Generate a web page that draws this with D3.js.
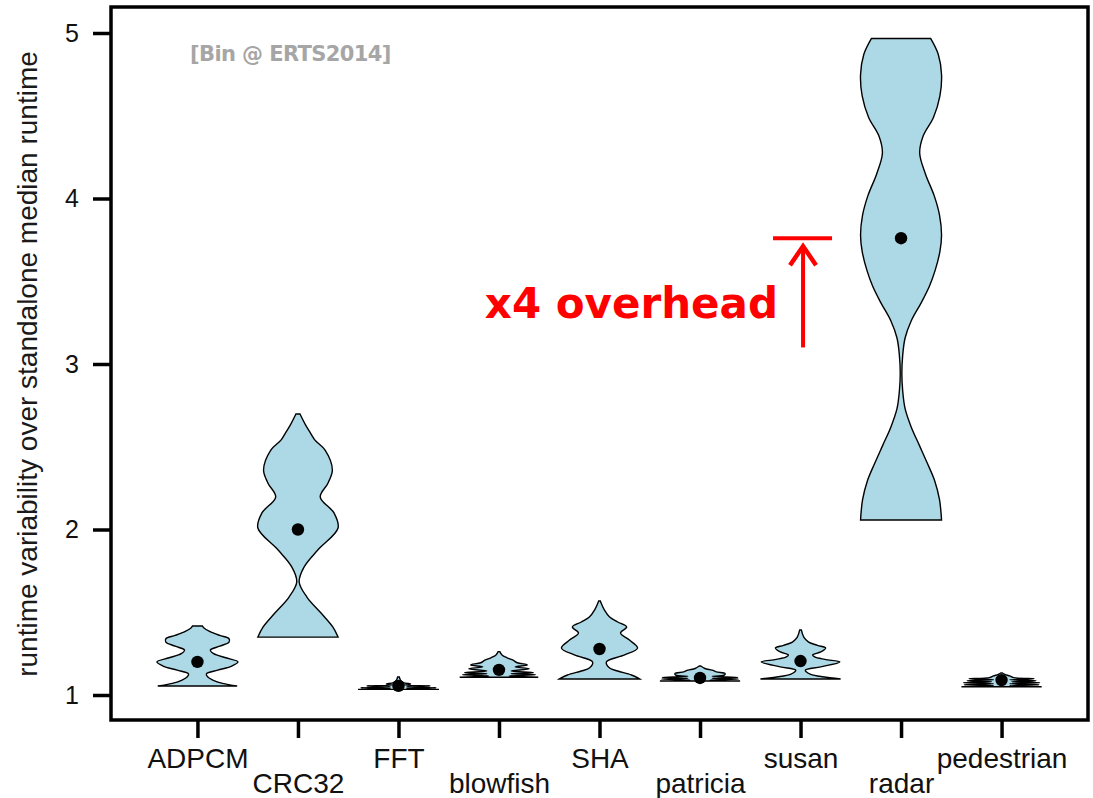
<!DOCTYPE html>
<html>
<head>
<meta charset="utf-8">
<script src="https://cdn.jsdelivr.net/npm/d3@7"></script>
<style>
  body { margin: 0; background: #fff; }
  text { font-family: Arial, "Liberation Sans", sans-serif; }
</style>
</head>
<body>
<div class="root"></div>
<script>

var benchmarks = ['ADPCM', 'CRC32', 'FFT', 'blowfish', 'SHA', 'patricia', 'susan', 'radar', 'pedestrian'];

var medians = [1.2, 2.0, 1.055, 1.152, 1.278, 1.103, 1.205, 3.76, 1.09];

var yTicks = [1, 2, 3, 4, 5];

// density profiles: [runtime ratio, relative density]
var adpcm = [[1.054,0.98],[1.07,0.62],[1.09,0.38],[1.11,0.25],[1.127,0.22],[1.15,0.5],[1.175,0.85],[1.2,1.0],
             [1.225,0.7],[1.25,0.4],[1.272,0.32],[1.295,0.55],[1.32,0.78],[1.34,0.78],[1.36,0.55],[1.385,0.3],
             [1.405,0.16],[1.417,0.12]];
var crc32 = [[1.35,0.99],[1.411,0.86],[1.495,0.57],[1.592,0.22],[1.683,0.03],[1.773,0.15],[1.876,0.49],[2.009,0.99],
             [2.1,0.89],[2.196,0.55],[2.28,0.74],[2.36,0.85],[2.48,0.67],[2.54,0.42],[2.583,0.31],[2.631,0.19],[2.698,0.05]];
var fft = [[1.034,1.0],[1.039,0.2],[1.044,0.93],[1.049,0.2],[1.055,0.78],[1.06,0.15],[1.066,0.3],[1.075,0.12],
           [1.09,0.05],[1.109,0.02]];
var blowfish = [[1.107,0.97],[1.115,0.25],[1.122,0.9],[1.128,0.3],[1.135,0.85],[1.145,0.3],[1.158,0.75],[1.17,0.4],
                [1.182,0.7],[1.195,0.45],[1.21,0.35],[1.225,0.2],[1.24,0.08],[1.262,0.02]];
var sha = [[1.097,0.99],[1.121,0.79],[1.145,0.45],[1.163,0.25],[1.2,0.17],[1.242,0.62],[1.284,0.94],[1.332,0.74],
           [1.375,0.52],[1.411,0.67],[1.441,0.45],[1.471,0.25],[1.514,0.12],[1.568,0.02]];
var patricia = [[1.085,0.99],[1.09,0.25],[1.096,0.95],[1.1,0.3],[1.106,0.93],[1.113,0.3],[1.12,0.6],[1.13,0.62],
                [1.14,0.4],[1.15,0.3],[1.16,0.12],[1.175,0.02]];
var susan = [[1.097,0.99],[1.11,0.55],[1.125,0.25],[1.14,0.14],[1.151,0.12],[1.17,0.5],[1.2,0.97],[1.215,0.6],
             [1.23,0.35],[1.242,0.3],[1.26,0.5],[1.284,0.62],[1.3,0.42],[1.32,0.2],[1.35,0.08],[1.393,0.02]];
var radar = [[2.057,1.0],[2.18,0.95],[2.295,0.83],[2.4,0.65],[2.51,0.45],[2.62,0.25],[2.73,0.1],[2.84,0.04],
             [2.94,0.02],[3.05,0.04],[3.157,0.1],[3.26,0.25],[3.371,0.5],[3.47,0.7],[3.564,0.84],[3.68,0.96],
             [3.78,1.0],[3.9,0.95],[4.016,0.82],[4.15,0.6],[4.275,0.46],[4.38,0.55],[4.49,0.8],[4.62,0.96],
             [4.748,1.0],[4.87,0.92],[4.967,0.73]];
var pedestrian = [[1.05,0.99],[1.056,0.2],[1.062,0.92],[1.068,0.2],[1.074,0.94],[1.08,0.25],[1.086,0.85],
                  [1.092,0.2],[1.098,0.8],[1.105,0.3],[1.115,0.2],[1.125,0.08],[1.133,0.02]];

var profiles = [adpcm, crc32, fft, blowfish, sha, patricia, susan, radar, pedestrian];

var canvasWidth  = 1093,
    canvasHeight = 798;

var box = {left: 111, top: 7, right: 1088, bottom: 720};

var canvas = d3.select('.root')
                .append('svg')
                .attr('width', canvasWidth)
                .attr('height', canvasHeight);

var xScale = d3.scalePoint()
                .domain(benchmarks)
                .range([box.left, box.right])
                .padding(0.86);

var yScale = d3.scaleLinear()
                .domain([1, 5])
                .range([695, 33]);

var widthScale = d3.scaleLinear()
                    .domain([0, 1])
                    .range([0, 40.5]);

//=============== violins ===================
profiles.forEach(function (profile, i) {
  var cx = xScale(benchmarks[i]);

  var area = d3.area()
                .curve(d3.curveCatmullRom)
                .y(d => yScale(d[0]))
                .x0(d => cx - widthScale(d[1]))
                .x1(d => cx + widthScale(d[1]));

  canvas.append('path')
        .datum(profile)
        .attr('d', area)
        .style('fill', '#add8e6')
        .style('stroke', '#000')
        .style('stroke-width', '1.4px');

  canvas.append('circle')
        .attr('cx', cx)
        .attr('cy', yScale(medians[i]))
        .attr('r', 6.2)
        .style('fill', '#000');
});

//=============== frame and axes ===================
canvas.append('rect')
      .attr('x', box.left)
      .attr('y', box.top)
      .attr('width', box.right - box.left)
      .attr('height', box.bottom - box.top)
      .style('fill', 'none')
      .style('stroke', '#000')
      .style('stroke-width', '3.5px');

var yAxis = canvas.append('g')
                  .attr('transform', 'translate(' + box.left + ',0)')
                  .call(d3.axisLeft(yScale).tickValues(yTicks).tickSize(18).tickPadding(14).tickFormat(d3.format('d')));

yAxis.select('.domain').remove();
yAxis.selectAll('line').style('stroke-width', '3.5px');
yAxis.selectAll('text')
     .style('font-size', '25px')
     .style('font-family', 'Arial, "Liberation Sans", sans-serif')
     .style('fill', '#111');

var xAxis = canvas.append('g')
                  .attr('transform', 'translate(0,' + box.bottom + ')')
                  .call(d3.axisBottom(xScale).tickSize(18));

xAxis.select('.domain').remove();
xAxis.selectAll('line').style('stroke-width', '3.5px');
xAxis.selectAll('text')
     .attr('y', (d, i) => i % 2 === 0 ? 48 : 73)
     .attr('dy', 0)
     .style('font-size', '28px')
     .style('font-family', 'Arial, "Liberation Sans", sans-serif')
     .style('fill', '#111');

canvas.append('text')
      .attr('transform', 'translate(37,' + 364 + ') rotate(-90)')
      .attr('text-anchor', 'middle')
      .style('font-size', '28px')
      .style('fill', '#1a1a1a')
      .text('runtime variability over standalone median runtime');

//=============== annotations ===================
canvas.append('text')
      .attr('x', 190)
      .attr('y', 61)
      .style('font-family', '"DejaVu Sans", sans-serif')
      .style('font-weight', 'bold')
      .style('font-size', '21px')
      .style('letter-spacing', '-0.6px')
      .style('fill', '#a6a6a6')
      .text('[Bin @ ERTS2014]');

var radarX = xScale('radar'),
    radarMed = medians[benchmarks.indexOf('radar')];

canvas.append('line')
      .attr('x1', radarX - 128).attr('x2', radarX - 69)
      .attr('y1', yScale(radarMed)).attr('y2', yScale(radarMed))
      .style('stroke', '#ff0000')
      .style('stroke-width', '4px');

canvas.append('line')
      .attr('x1', radarX - 98).attr('x2', radarX - 98)
      .attr('y1', yScale(3.1)).attr('y2', yScale(radarMed) + 8)
      .style('stroke', '#ff0000')
      .style('stroke-width', '4px');

canvas.append('path')
      .attr('d', 'M' + (radarX - 111) + ',' + (yScale(radarMed) + 27) +
                 'L' + (radarX - 98) + ',' + (yScale(radarMed) + 8) +
                 'L' + (radarX - 85) + ',' + (yScale(radarMed) + 27))
      .style('fill', 'none')
      .style('stroke', '#ff0000')
      .style('stroke-width', '4.5px');

canvas.append('text')
      .attr('x', 778)
      .attr('y', 318)
      .attr('text-anchor', 'end')
      .style('font-family', '"DejaVu Sans", sans-serif')
      .style('font-weight', 'bold')
      .style('font-size', '42px')
      .style('fill', '#ff0000')
      .text('x4 overhead');

</script>
</body>
</html>
